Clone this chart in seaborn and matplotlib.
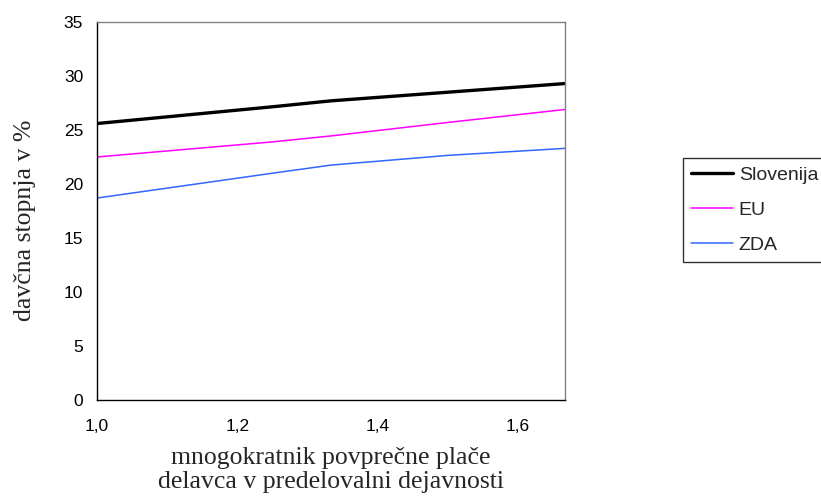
import matplotlib
matplotlib.use("Agg")
import matplotlib.pyplot as plt
import seaborn as sns
import pandas as pd
from matplotlib.lines import Line2D

x_vals = [1.0, 1.25, 1.3333, 1.5, 1.6667]
slovenija = [25.6, 27.15, 27.7, 28.5, 29.3]
eu = [22.5, 23.9, 24.45, 25.7, 26.9]
zda = [18.7, 21.0, 21.75, 22.65, 23.3]
series_names = ["Slovenija", "EU", "ZDA"]
x_ticks = [1.0, 1.2, 1.4, 1.6]
x_tick_labels = ["1,0", "1,2", "1,4", "1,6"]
y_ticks = [0, 5, 10, 15, 20, 25, 30, 35]

rows = []
for name, vals in zip(series_names, [slovenija, eu, zda]):
    for xv, yv in zip(x_vals, vals):
        rows.append({"x": xv, "y": yv, "serija": name})
df = pd.DataFrame(rows)

sns.set_style("white")
plt.rcParams["font.family"] = ["Liberation Sans", "DejaVu Sans"]

fig = plt.figure(figsize=(8.21, 4.99), dpi=100)
ax = fig.add_axes([97/821, 99/499, (565-97)/821, (400-22)/499])

palette = {"Slovenija": "#000000", "EU": "#FF00FF", "ZDA": "#3366FF"}
sns.lineplot(data=df, x="x", y="y", hue="serija", palette=palette,
             size="serija", sizes={"Slovenija": 2.4, "EU": 1.1, "ZDA": 1.1},
             ax=ax, legend=False, estimator=None, sort=True)

ax.set_xlim(1.0, 1.6667)
ax.set_ylim(0, 35)
ax.set_xticks(x_ticks)
ax.set_xticklabels(x_tick_labels)
ax.set_yticks(y_ticks)
ax.tick_params(axis="both", direction="out", length=6, width=1, labelsize=12.5, colors="black")
ax.tick_params(axis="x", pad=8)
ax.tick_params(axis="y", pad=4)

for s in ["left", "bottom"]:
    ax.spines[s].set_color("black")
    ax.spines[s].set_linewidth(1.0)
for s in ["top", "right"]:
    ax.spines[s].set_color("#808080")
    ax.spines[s].set_linewidth(1.0)

ax.set_xlabel("mnogokratnik povprečne plače\ndelavca v predelovalni dejavnosti",
              family=["Liberation Serif", "DejaVu Serif"], fontsize=18.5, labelpad=9,
              linespacing=1.12)
ax.set_ylabel("davčna stopnja v %", family=["Liberation Serif", "DejaVu Serif"],
              fontsize=18.5)
ax.yaxis.set_label_coords(-0.131, 0.476)

handles = [Line2D([], [], color=palette["Slovenija"], lw=2.4),
           Line2D([], [], color=palette["EU"], lw=1.1),
           Line2D([], [], color=palette["ZDA"], lw=1.1)]
leg = fig.legend(handles, series_names, loc="upper left",
                 bbox_to_anchor=(683/821, 1 - 158/499), fontsize=14,
                 frameon=True, fancybox=False, edgecolor="black",
                 labelspacing=0.9, handlelength=2.15, handletextpad=0.3,
                 borderpad=0.42, borderaxespad=0)
leg.get_frame().set_linewidth(1.0)

fig.savefig("out.png", dpi=100)
